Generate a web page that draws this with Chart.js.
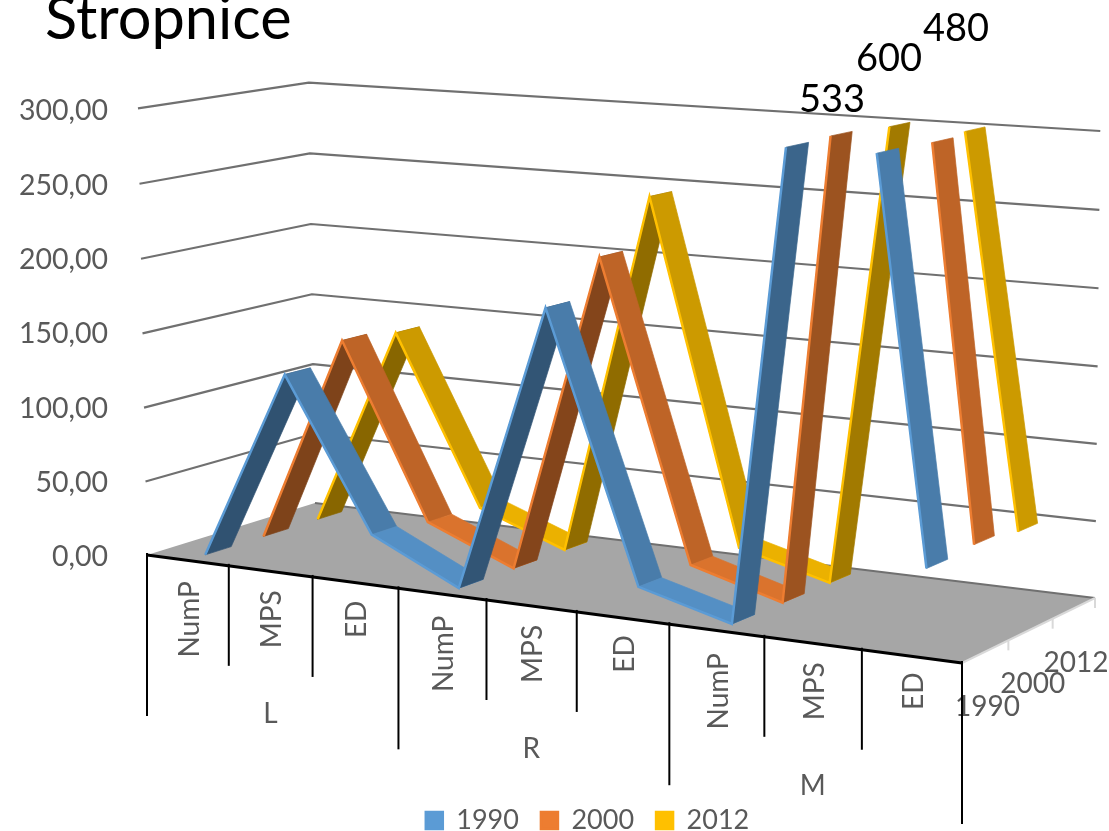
<!DOCTYPE html>
<html><head><meta charset="utf-8">
<style>html,body{margin:0;padding:0;background:#fff}canvas{display:block}</style>
<script src="https://cdn.jsdelivr.net/npm/chart.js@4/dist/chart.umd.js"></script>
</head><body>
<canvas id="c" width="1109" height="831" style="width:1109px;height:831px"></canvas>
<script>
const chartTitle = 'Stropnice';
const categories = ['NumP','MPS','ED','NumP','MPS','ED','NumP','MPS','ED'];
const groups = ['L','R','M'];
const seriesNames = ['1990','2000','2012'];
const values1990 = [0, 128, 28, 0, 188, 16, 0, 533, 50];
const values2000 = [0, 141, 24, 0, 212, 17, 0, 600, 52];
const values2012 = [0, 137, 22, 0, 244, 16, 0, 480, 48];
const seriesColors = ['#5b9bd5','#ed7d31','#ffc000'];
const yMax = 300, yStep = 50;

const FONT = 'Lato, Carlito, sans-serif';
const GREY = '#595959';
/* floor corners and wall tops of the 3D box on the page */
const box = {
  floor: [[147,555],[962,663],[1095,598],[315,503]],
  top: [[0,0,137,108],[0,1,310,82],[1,1,1100,132]]
};
const depthBands = [[.10,.25],[.44,.59],[.77,.92]];
const peakLabelPos = [[832,100],[889,59],[956,29]];

function solve(A,b){const n=b.length,M=A.map((r,i)=>[...r,b[i]]);
  for(let i=0;i<n;i++){let p=i;for(let k=i+1;k<n;k++)if(Math.abs(M[k][i])>Math.abs(M[p][i]))p=k;
    [M[i],M[p]]=[M[p],M[i]];
    for(let k=0;k<n;k++){if(k===i)continue;const f=M[k][i]/M[i][i];for(let j=i;j<=n;j++)M[k][j]-=f*M[i][j];}}
  return M.map((r,i)=>r[n]/r[i]);}
const src=[[0,0],[1,0],[1,1],[0,1]];
const HA=[],Hb=[];
box.floor.forEach((p,i)=>{const [s,t]=src[i],[u,v]=p;
  HA.push([s,t,1,0,0,0,-u*s,-u*t]);Hb.push(u);
  HA.push([0,0,0,s,t,1,-v*s,-v*t]);Hb.push(v);});
const H=solve(HA,Hb);
const rows=[],rhs=[];
box.top.forEach(([s,t,u,v])=>{
  const W=H[6]*s+H[7]*t+1,X=H[0]*s+H[1]*t+H[2],Y=H[3]*s+H[4]*t+H[5];
  rows.push([1,0,-u]);rhs.push(u*W-X);
  rows.push([0,1,-v]);rhs.push(v*W-Y);});
const N=[0,1,2].map(i=>[0,1,2].map(j=>rows.reduce((a,r)=>a+r[i]*r[j],0)));
const Nb=[0,1,2].map(i=>rows.reduce((a,r,k)=>a+r[i]*rhs[k],0));
const [hp,hq,hr]=solve(N,Nb);
function project3(s,t,h){const W=H[6]*s+H[7]*t+1+hr*h;
  return {x:(H[0]*s+H[1]*t+H[2]+hp*h)/W,y:(H[3]*s+H[4]*t+H[5]+hq*h)/W};}
function projPx(chart,lx,ly,d){const a=chart.chartArea;
  return project3((lx-a.left)/(a.right-a.left),d,(a.bottom-ly)/(a.bottom-a.top));}

function shade(hex,k){const n=parseInt(hex.slice(1),16);
  return 'rgb('+[(n>>16)&255,(n>>8)&255,n&255].map(c=>Math.round(c*k)).join(',')+')';}

const scene={
  id:'scene',
  afterDatasetUpdate(chart,{index,meta}){
    const d=depthBands[index][0];
    meta.data.forEach(el=>{
      el.$lx=el.x;el.$ly=el.y;
      const p=projPx(chart,el.x,el.y,d);el.x=p.x;el.y=p.y;
    });
  },
  afterLayout(chart){
    const t=chart.titleBlock;
    if(t){t.left=45;t.top=-10;}
    const l=chart.legend;
    if(l){l.left+=66;l.top+=13;}
  },
  beforeDatasetsDraw(chart){
    const ctx=chart.ctx,ys=chart.scales.y,xs=chart.scales.x,a=chart.chartArea;
    const F=(s,t,h)=>project3(s,t,h);
    // floor
    ctx.save();
    ctx.beginPath();
    [[0,0],[1,0],[1,1],[0,1]].forEach(([s,t],i)=>{const p=F(s,t,0);i?ctx.lineTo(p.x,p.y):ctx.moveTo(p.x,p.y);});
    ctx.closePath();ctx.fillStyle='#a6a6a6';ctx.fill();
    // walls
    ctx.strokeStyle='#707070';ctx.lineWidth=2.2;ctx.lineJoin='round';
    ys.ticks.forEach(tk=>{
      const h=(a.bottom-ys.getPixelForValue(tk.value))/(a.bottom-a.top);
      const p0=F(0,0,h),p1=F(0,1,h),p2=F(1,1,h);
      ctx.beginPath();
      if(tk.value>0)ctx.moveTo(p0.x,p0.y);else ctx.moveTo(p1.x,p1.y);
      ctx.lineTo(p1.x,p1.y);ctx.lineTo(p2.x,p2.y);ctx.stroke();
    });
    // depth axis
    ctx.strokeStyle='#d9d9d9';ctx.lineWidth=2;
    const q0=F(1,0,0),q1=F(1,1,0);
    ctx.beginPath();ctx.moveTo(q0.x,q0.y);ctx.lineTo(q1.x,q1.y);ctx.stroke();
    ctx.fillStyle=GREY;ctx.font='28px '+FONT;ctx.textAlign='center';ctx.textBaseline='middle';
    seriesNames.forEach((n,i)=>{
      const tick=F(1,(i+1)/3,0);
      ctx.beginPath();ctx.moveTo(tick.x,tick.y);ctx.lineTo(tick.x,tick.y+10);ctx.stroke();
      const c=F(1,(i+.5)/3,0);
      ctx.fillText(n,c.x+2,c.y+55);
    });
    // category axis
    ctx.strokeStyle='#000';ctx.lineWidth=3;
    const b0=F(0,0,0),b1=F(1,0,0);
    ctx.beginPath();ctx.moveTo(b0.x,b0.y);ctx.lineTo(b1.x,b1.y);ctx.stroke();
    ctx.lineWidth=2;
    for(let i=0;i<=categories.length;i++){
      const p=F(i/categories.length,0,0);
      ctx.beginPath();ctx.moveTo(p.x,p.y-2);ctx.lineTo(p.x,p.y+(i%3===0?161:100));ctx.stroke();
    }
    ctx.fillStyle=GREY;
    groups.forEach((g,gi)=>{
      const mid=F((xs.getPixelForValue(gi*3+1)-a.left)/(a.right-a.left),0,0);
      ctx.font='28px '+FONT;ctx.fillText(g,mid.x,mid.y+143);
      for(let j=0;j<3;j++){
        const c=F((xs.getPixelForValue(gi*3+j)-a.left)/(a.right-a.left),0,0);
        ctx.save();ctx.translate(c.x+2,mid.y+48);ctx.rotate(-Math.PI/2);
        ctx.fillText(categories[gi*3+j],0,0);ctx.restore();
      }
    });
    ctx.restore();
  },
  beforeDatasetDraw(chart,{index,meta}){
    const ctx=chart.ctx,a=chart.chartArea,[d0,d1]=depthBands[index],col=seriesColors[index];
    ctx.save();
    const pts=meta.data;
    for(let i=0;i<pts.length-1;i++){
      let x1=pts[i].$lx,y1=pts[i].$ly,x2=pts[i+1].$lx,y2=pts[i+1].$ly;
      const slope=(y1-y2)/(x2-x1);
      let k;
      if(slope>0)k=.53+.13*Math.min(1,Math.max(0,(slope-1.8)/6));
      else k=slope>-.8?.92:.8;
      if(y1<a.top&&y2<a.top)continue;
      if(y1<a.top){x1=x1+(x2-x1)*(a.top-y1)/(y2-y1);y1=a.top;}
      if(y2<a.top){x2=x1+(x2-x1)*(a.top-y1)/(y2-y1);y2=a.top;}
      const q=[projPx(chart,x1,y1,d0),projPx(chart,x2,y2,d0),projPx(chart,x2,y2,d1),projPx(chart,x1,y1,d1)];
      ctx.beginPath();q.forEach((p,n)=>n?ctx.lineTo(p.x,p.y):ctx.moveTo(p.x,p.y));ctx.closePath();
      ctx.fillStyle=shade(col,k);ctx.strokeStyle=ctx.fillStyle;ctx.lineWidth=.7;ctx.fill();ctx.stroke();
    }
    ctx.restore();
    // keep the library's own edge line under the top of the box
    const L=projPx(chart,a.left-100,a.top,d0),R=projPx(chart,a.right+100,a.top,d0);
    ctx.save();ctx.beginPath();ctx.moveTo(L.x,L.y);ctx.lineTo(R.x,R.y);ctx.lineTo(chart.width+200,chart.height);ctx.lineTo(-200,chart.height);ctx.closePath();ctx.clip();
  },
  afterDatasetDraw(chart){chart.ctx.restore();},
  afterDatasetsDraw(chart){
    const ctx=chart.ctx;ctx.save();
    ctx.fillStyle='#000';ctx.font='38px '+FONT;ctx.textAlign='center';ctx.textBaseline='middle';
    [values1990,values2000,values2012].forEach((s,i)=>ctx.fillText(String(s[7]),peakLabelPos[i][0],peakLabelPos[i][1]));
    ctx.restore();
  }
};

new Chart(document.getElementById('c'),{
  type:'line',
  data:{labels:categories,datasets:[values1990,values2000,values2012].map((v,i)=>({
    label:seriesNames[i],data:v,borderColor:seriesColors[i],backgroundColor:seriesColors[i],
    borderWidth:2.5,pointRadius:0,tension:0,clip:false,fill:false}))},
  options:{
    responsive:false,animation:false,events:[],
    layout:{padding:0},
    plugins:{
      tooltip:{enabled:false},
      title:{display:true,text:chartTitle,align:'start',color:'#000',font:{family:FONT,size:59.5,weight:'normal',lineHeight:1},padding:{top:0,bottom:51.5}},
      legend:{position:'bottom',labels:{boxWidth:17,boxHeight:17,color:GREY,padding:22,font:{family:FONT,size:27}}}
    },
    scales:{
      x:{offset:true,grid:{display:false},border:{display:false},ticks:{display:false},
         afterFit(s){s.height=831-557-((s.chart.legend&&s.chart.legend.height)||45);}},
      y:{min:0,max:yMax,grid:{display:false},border:{display:false},
         ticks:{stepSize:yStep,color:GREY,font:{family:FONT,size:28.5},padding:31,callback:v=>v.toFixed(2).replace('.',',')},
         afterFit(s){s.width=147;}}
    }
  },
  plugins:[scene]
});
</script>
</body></html>
